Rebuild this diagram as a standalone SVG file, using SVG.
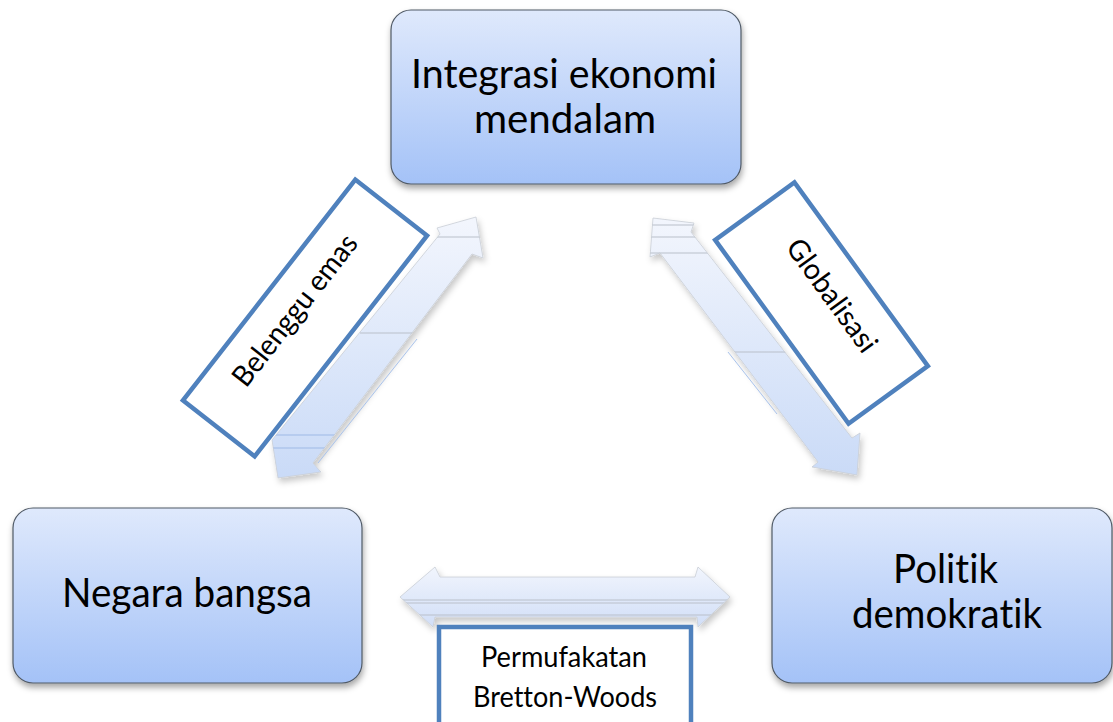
<svg xmlns="http://www.w3.org/2000/svg" width="1113" height="722" viewBox="0 0 1113 722">
<style>
text{font-variant-ligatures:none;font-feature-settings:"liga" 0,"clig" 0,"dlig" 0}
.node{fill:url(#nodeGrad);stroke:#505a66;stroke-width:1.2;filter:url(#shadow)}
.nt{font-family:Lato,"Liberation Sans",sans-serif;font-size:40px;fill:#000;text-anchor:middle}
.lbl{fill:#fff;stroke:#4f81bd;stroke-width:4.5}
.lt{font-family:Lato,"Liberation Sans",sans-serif;font-size:29px;fill:#000;text-anchor:middle}
.arrow{stroke:#c9ced6;stroke-width:0.8;filter:url(#ashadow)}
.bev{stroke:#b9c0ca;stroke-width:1.2;fill:none}
.bevb{stroke:#9db9e6;stroke-width:1.2;fill:none}
</style>
<defs>
<linearGradient id="nodeGrad" x1="0" y1="0" x2="0" y2="1">
<stop offset="0" stop-color="#dfe9fc"/>
<stop offset="1" stop-color="#a4c2f7"/>
</linearGradient>
<linearGradient id="agL" gradientUnits="userSpaceOnUse" x1="0" y1="215" x2="0" y2="480">
<stop offset="0" stop-color="#f3f6fd"/>
<stop offset="1" stop-color="#c9daf7"/>
</linearGradient>
<linearGradient id="agB" gradientUnits="userSpaceOnUse" x1="0" y1="567" x2="0" y2="627">
<stop offset="0" stop-color="#f1f5fd"/>
<stop offset="1" stop-color="#d1def7"/>
</linearGradient>
<filter id="shadow" x="-10%" y="-10%" width="120%" height="130%">
<feDropShadow dx="1" dy="4" stdDeviation="3" flood-color="#000" flood-opacity="0.35"/>
</filter>
<filter id="ashadow" x="-20%" y="-20%" width="140%" height="140%">
<feDropShadow dx="2" dy="4" stdDeviation="3" flood-color="#000" flood-opacity="0.22"/>
</filter>
<clipPath id="cpL"><polygon points="437,228 476,217 483,258 472,254 313,463 321,472 278,478 272,440 440,234"/></clipPath>
<clipPath id="cpR"><polygon points="653,218 694,223 691,232 852,438 860,433 857,475 812,467 818,462 660,253 650,257"/></clipPath>
<clipPath id="cpB"><polygon points="400,597 435,567 440,577 695,577 698,567 730,597 698,627 697,617 435,617 433,627"/></clipPath>
</defs>

<g id="connectors">
<g id="arrow-left">
<polygon class="arrow" fill="url(#agL)" points="437,228 476,217 483,258 472,254 313,463 321,472 278,478 272,440 440,234"/>
<g clip-path="url(#cpL)">
<line class="bev" x1="430" y1="237" x2="490" y2="237"/>
<line class="bev" x1="360" y1="333" x2="420" y2="333"/>
<line class="bevb" x1="260" y1="435" x2="340" y2="435"/>
<line class="bevb" x1="260" y1="448" x2="340" y2="448"/>
</g>
<line x1="417" y1="339" x2="318" y2="463" stroke="#a9c3ec" stroke-width="1"/>
</g>
<g id="arrow-right">
<polygon class="arrow" fill="url(#agL)" points="653,218 694,223 691,232 852,438 860,433 857,475 812,467 818,462 660,253 650,257"/>
<g clip-path="url(#cpR)">
<line class="bev" x1="640" y1="225" x2="710" y2="225"/>
<line class="bev" x1="640" y1="237" x2="710" y2="237"/>
<line class="bev" x1="640" y1="253" x2="720" y2="253"/>
<line class="bev" x1="700" y1="352" x2="790" y2="352"/>
</g>
<line x1="728" y1="352" x2="777" y2="414" stroke="#a9c3ec" stroke-width="1"/>
</g>
<g id="arrow-bottom">
<polygon class="arrow" fill="url(#agB)" points="400,597 435,567 440,577 695,577 698,567 730,597 698,627 697,617 435,617 433,627"/>
<g clip-path="url(#cpB)">
<line class="bev" x1="400" y1="600" x2="730" y2="600"/>
<line class="bev" x1="400" y1="603" x2="730" y2="603"/>
<line class="bev" x1="400" y1="615" x2="730" y2="615"/>
</g>
</g>
</g>

<g id="node-integrasi">
<rect class="node" x="391" y="10" width="350" height="174" rx="20"/>
<text class="nt" x="564" y="88" textLength="306" lengthAdjust="spacingAndGlyphs">Integrasi ekonomi</text>
<text class="nt" x="565" y="133" textLength="182" lengthAdjust="spacingAndGlyphs">mendalam</text>
</g>

<g id="node-negara">
<rect class="node" x="13" y="508" width="349" height="175" rx="20"/>
<text class="nt" x="187" y="607" textLength="250" lengthAdjust="spacingAndGlyphs">Negara bangsa</text>
</g>

<g id="node-politik">
<rect class="node" x="772" y="508" width="340" height="175" rx="20"/>
<text class="nt" x="945.5" y="583" textLength="105" lengthAdjust="spacingAndGlyphs">Politik</text>
<text class="nt" x="947" y="628" textLength="190" lengthAdjust="spacingAndGlyphs">demokratik</text>
</g>

<g id="label-belenggu" transform="translate(305,318) rotate(-52)">
<rect class="lbl" x="-140" y="-45.5" width="280" height="91"/>
<text class="lt" x="0" y="-3" textLength="184" lengthAdjust="spacingAndGlyphs">Belenggu emas</text>
</g>

<g id="label-globalisasi" transform="translate(821.5,303) rotate(54)">
<rect class="lbl" x="-113.5" y="-49" width="227" height="98"/>
<text class="lt" x="0" y="-3" textLength="133" lengthAdjust="spacingAndGlyphs">Globalisasi</text>
</g>

<g id="label-bretton">
<rect class="lbl" x="439" y="627" width="252" height="110"/>
<text class="lt" x="564" y="667" textLength="166" lengthAdjust="spacingAndGlyphs">Permufakatan</text>
<text class="lt" x="565" y="707" textLength="184" lengthAdjust="spacingAndGlyphs">Bretton-Woods</text>
</g>
</svg>
